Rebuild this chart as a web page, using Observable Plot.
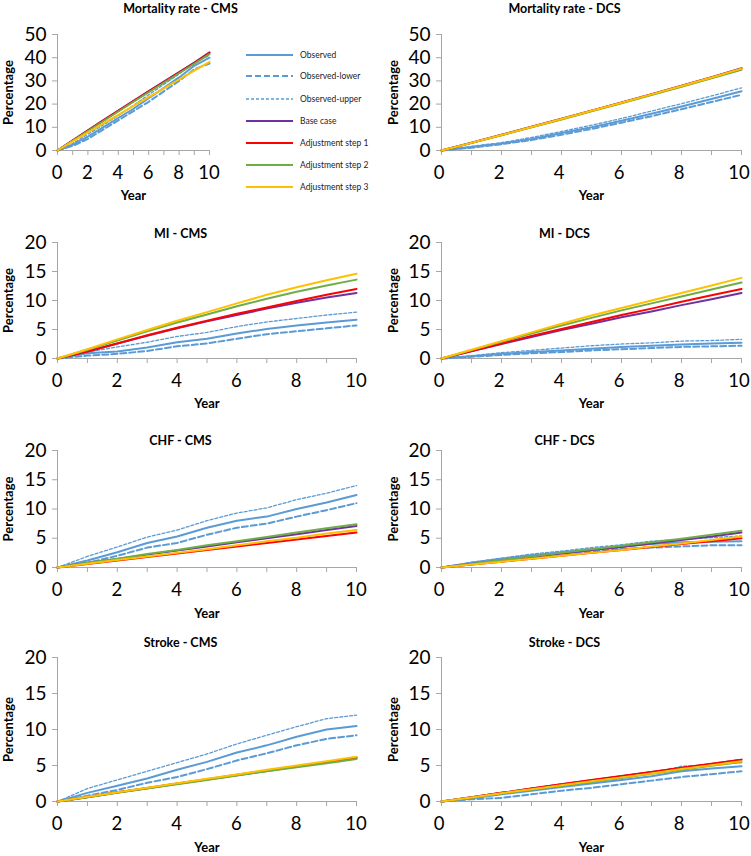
<!DOCTYPE html>
<html><head><meta charset="utf-8">
<script src="https://cdn.jsdelivr.net/npm/d3@7"></script>
<script src="https://cdn.jsdelivr.net/npm/@observablehq/plot@0.6"></script>
<style>
body{margin:0;background:#fff;}
#page{position:relative;width:751px;height:856px;font-family:Lato,"DejaVu Sans",sans-serif;overflow:hidden;}
.panel{position:absolute;}
.panel svg{overflow:visible;}
#legend{position:absolute;left:0;top:0;}
</style></head><body><div id="page"></div>
<script>
const years = [0,1,2,3,4,5,6,7,8,9,10];
const seriesNames = ["Observed","Observed-lower","Observed-upper","Base case","Adjustment step 1","Adjustment step 2","Adjustment step 3"];
const seriesKeys = ["observed","lower","upper","base","adj1","adj2","adj3"];

const mortalityCMS = {
  observed: [0,2.5,6,10,14,18,22.5,27,31.5,36.5,40],
  lower:    [0,2,5,9,13,17,21,25.5,30,35,37.5],
  upper:    [0,3,7,11,15,19.5,24,28.5,33,38,41],
  base:     [0,4.4,8.7,13,17.2,21.4,25.6,29.7,33.8,37.9,42.3],
  adj1:     [0,4.3,8.6,12.9,17.1,21.3,25.4,29.5,33.6,37.7,42],
  adj2:     [0,4.2,8.4,12.6,16.8,21,25.1,29.2,33.3,37.4,41.5],
  adj3:     [0,3.9,7.8,11.6,15.4,19.2,23,26.8,30.6,34.4,38.2]
};
const mortalityDCS = {
  observed: [0,1.5,3,5,7.5,10,12.8,15.8,19,22.2,25.5],
  lower:    [0,1.2,2.7,4.5,6.8,9.3,12,14.8,17.8,20.9,24],
  upper:    [0,1.8,3.4,5.6,8.2,10.9,13.8,17,20.2,23.5,27],
  base:     [0,3.35,6.8,10.2,13.7,17.2,20.7,24.3,27.9,31.6,35.5],
  adj1:     [0,3.3,6.7,10.1,13.6,17.1,20.6,24.2,27.8,31.5,35.3],
  adj2:     [0,3.3,6.6,10,13.4,16.9,20.4,23.9,27.5,31.1,34.8],
  adj3:     [0,3.3,6.7,10.1,13.6,17.1,20.6,24.2,27.8,31.5,35.3]
};
const miCMS = {
  observed: [0,0.9,1.2,1.9,2.8,3.4,4.3,5.1,5.7,6.2,6.7],
  lower:    [0,0.5,0.8,1.3,2.1,2.6,3.4,4.2,4.7,5.2,5.7],
  upper:    [0,1.1,2.0,2.8,3.8,4.5,5.5,6.3,6.9,7.5,8.0],
  base:     [0,1.2,2.6,3.9,5.2,6.4,7.5,8.6,9.6,10.5,11.3],
  adj1:     [0,1.2,2.6,4,5.3,6.5,7.7,8.8,9.9,11,12],
  adj2:     [0,1.5,3.1,4.7,6.2,7.6,9,10.3,11.5,12.6,13.6],
  adj3:     [0,1.6,3.3,4.9,6.5,8,9.5,11,12.3,13.5,14.6]
};
const miDCS = {
  observed: [0,0.4,0.8,1.1,1.4,1.7,2,2.2,2.4,2.6,2.7],
  lower:    [0,0.3,0.6,0.9,1.1,1.4,1.6,1.8,2,2.1,2.2],
  upper:    [0,0.5,1.0,1.4,1.8,2.2,2.5,2.7,3,3.1,3.3],
  base:     [0,1.25,2.5,3.7,4.9,6,7.1,8.1,9.2,10.2,11.3],
  adj1:     [0,1.3,2.6,3.9,5.1,6.3,7.5,8.6,9.8,10.9,12],
  adj2:     [0,1.45,2.9,4.3,5.7,7,8.3,9.5,10.7,11.9,13.1],
  adj3:     [0,1.5,3,4.5,6,7.4,8.7,10,11.3,12.6,13.9]
};
const chfCMS = {
  observed: [0,1.2,2.6,4.2,5.3,6.8,8,8.7,10,11.1,12.4],
  lower:    [0,0.8,2,3.4,4.2,5.6,6.8,7.5,8.7,9.8,11],
  upper:    [0,1.9,3.5,5.2,6.4,8,9.3,10.2,11.6,12.7,14],
  base:     [0,0.75,1.45,2.2,2.9,3.6,4.3,5,5.7,6.4,7.1],
  adj1:     [0,0.6,1.2,1.8,2.4,3.0,3.6,4.2,4.8,5.4,6.0],
  adj2:     [0,0.8,1.5,2.3,3.0,3.8,4.5,5.2,6,6.7,7.4],
  adj3:     [0,0.65,1.3,1.9,2.5,3.1,3.8,4.5,5.1,5.8,6.4]
};
const chfDCS = {
  observed: [0,0.8,1.5,2.1,2.6,3.1,3.6,4,4.3,4.4,4.5],
  lower:    [0,0.7,1.4,1.9,2.4,2.8,3.2,3.4,3.6,3.8,3.8],
  upper:    [0,0.9,1.6,2.3,2.8,3.4,3.9,4.5,4.8,5.1,5.4],
  base:     [0,0.6,1.2,1.8,2.4,3.0,3.5,4.1,4.7,5.3,6.0],
  adj1:     [0,0.5,1.0,1.5,2.0,2.5,3.0,3.5,4.0,4.5,5.0],
  adj2:     [0,0.6,1.3,1.9,2.5,3.1,3.7,4.3,4.9,5.6,6.3],
  adj3:     [0,0.5,1.0,1.5,2.0,2.5,3.0,3.6,4.1,4.7,5.3]
};
const strokeCMS = {
  observed: [0,1.2,2.2,3.2,4.4,5.5,6.8,7.8,9,10,10.5],
  lower:    [0,0.8,1.6,2.6,3.4,4.5,5.7,6.7,7.8,8.7,9.2],
  upper:    [0,1.8,3,4.2,5.4,6.6,8,9.2,10.4,11.5,12],
  base:     [0,0.6,1.25,1.85,2.45,3.05,3.65,4.25,4.85,5.45,6.0],
  adj1:     [0,0.62,1.27,1.88,2.5,3.1,3.7,4.3,4.9,5.5,6.1],
  adj2:     [0,0.6,1.22,1.82,2.4,3.0,3.6,4.2,4.75,5.3,5.9],
  adj3:     [0,0.65,1.3,1.9,2.55,3.15,3.75,4.4,5.0,5.6,6.2]
};
const strokeDCS = {
  observed: [0,0.4,1.0,1.5,2,2.5,3,3.5,4.2,4.6,4.9],
  lower:    [0,0.3,0.5,1.0,1.5,1.9,2.4,2.9,3.4,3.8,4.2],
  upper:    [0,0.5,1.2,1.7,2.2,2.7,3.2,3.9,4.9,5.1,5.4],
  base:     [0,0.6,1.2,1.8,2.4,2.95,3.5,4.1,4.65,5.2,5.8],
  adj1:     [0,0.6,1.2,1.8,2.4,3.0,3.55,4.1,4.7,5.25,5.8],
  adj2:     [0,0.55,1.1,1.65,2.2,2.75,3.3,3.85,4.4,4.95,5.5],
  adj3:     [0,0.57,1.15,1.7,2.25,2.8,3.35,3.9,4.5,5.05,5.6]
};

const seriesColors = ["#5B9BD5","#5B9BD5","#5B9BD5","#7030A0","#FF0000","#70AD47","#FFC000"];
const seriesDash = [null,"6,3","3,2",null,null,null,null];
const seriesWidth = [2,2,1.3,2,2,2,2];
const axisColor = "#A6A6A6";
const font = "Lato, 'DejaVu Sans', sans-serif";

const panels = [
  {title:"Mortality rate - CMS", data:mortalityCMS, yMax:50, yTicks:[0,10,20,30,40,50], left:0, top:0, width:230, height:210, mt:34, mb:60, ml:57, mr:21, titleX:180, titleY:8, yearDy:45},
  {title:"Mortality rate - DCS", data:mortalityDCS, yMax:50, yTicks:[0,10,20,30,40,50], left:375, top:0, width:376, height:210, mt:34, mb:60, ml:66, mr:10, titleX:564, titleY:8, yearDy:45},
  {title:"MI - CMS", data:miCMS, yMax:20, yTicks:[0,5,10,15,20], left:0, top:210, width:375, height:210, mt:32, mb:62, ml:57, mr:19, titleX:180, titleY:23, yearDy:45},
  {title:"MI - DCS", data:miDCS, yMax:20, yTicks:[0,5,10,15,20], left:375, top:210, width:376, height:210, mt:32, mb:62, ml:66, mr:10, titleX:564, titleY:23, yearDy:45},
  {title:"CHF - CMS", data:chfCMS, yMax:20, yTicks:[0,5,10,15,20], left:0, top:420, width:375, height:210, mt:30, mb:63, ml:57, mr:19, titleX:180, titleY:20, yearDy:46},
  {title:"CHF - DCS", data:chfDCS, yMax:20, yTicks:[0,5,10,15,20], left:375, top:420, width:376, height:210, mt:30, mb:63, ml:66, mr:10, titleX:564, titleY:20, yearDy:46},
  {title:"Stroke - CMS", data:strokeCMS, yMax:20, yTicks:[0,5,10,15,20], left:0, top:630, width:375, height:226, mt:27, mb:55, ml:57, mr:19, titleX:180, titleY:12, yearDy:46},
  {title:"Stroke - DCS", data:strokeDCS, yMax:20, yTicks:[0,5,10,15,20], left:375, top:630, width:376, height:226, mt:27, mb:55, ml:66, mr:10, titleX:564, titleY:12, yearDy:46}
];

const page = document.getElementById("page");

for (const p of panels) {
  const frameCenterX = p.left + p.ml + (p.width - p.ml - p.mr) / 2;
  const lines = seriesKeys.map((k, i) => {
    const rows = years.map((y, j) => ({year: y, value: p.data[k][j]}));
    return Plot.line(rows, {x: "year", y: "value", stroke: seriesColors[i], strokeWidth: seriesWidth[i], strokeDasharray: seriesDash[i] || undefined, strokeLinejoin: "round"});
  });
  const chart = Plot.plot({
    width: p.width, height: p.height,
    marginTop: p.mt, marginBottom: p.mb, marginLeft: p.ml, marginRight: p.mr,
    style: {fontFamily: font, background: "transparent", overflow: "visible"},
    x: {domain: [0, 10]},
    y: {domain: [0, p.yMax]},
    marks: [
      Plot.axisY({ticks: p.yTicks, tickSize: 5, tickPadding: 6, fontSize: 19, stroke: axisColor, fill: "#000", label: null}),
      Plot.axisX({ticks: years, tickFormat: () => "", tickSize: 5, stroke: axisColor, label: null}),
      Plot.axisX({ticks: years.filter(d => d % 2 === 0), tickSize: 0, tickPadding: 15, fontSize: 18.5, fill: "#000", label: null, dx: p.left === 0 ? -0.5 : -2.5}),
      Plot.ruleX([0], {stroke: axisColor, strokeWidth: 1}),
      Plot.ruleY([0], {stroke: axisColor, strokeWidth: 1}),
      ...lines,
      Plot.text([p.title], {frameAnchor: "top", lineAnchor: "middle", textAnchor: "middle", dy: -(p.mt - p.titleY), dx: p.titleX - frameCenterX, fontWeight: "bold", fontSize: 12.5, fill: "#000"}),
      Plot.text(["Year"], {frameAnchor: "bottom", lineAnchor: "middle", textAnchor: "middle", dy: p.yearDy, fontWeight: "bold", fontSize: 13, fill: "#000"}),
      Plot.text(["Percentage"], {frameAnchor: "left", lineAnchor: "middle", textAnchor: "middle", rotate: -90, dx: -(p.ml - (p.left === 0 ? 8 : 18)), fontWeight: "bold", fontSize: 13, fill: "#000"})
    ]
  });
  const div = document.createElement("div");
  div.className = "panel";
  div.style.left = p.left + "px";
  div.style.top = p.top + "px";
  div.appendChild(chart);
  page.appendChild(div);
}

// Legend
const legendYs = [55, 76, 99, 121, 143, 165, 187];
const legend = d3.create("svg").attr("id", "legend").attr("width", 375).attr("height", 210)
  .style("font-family", font);
seriesNames.forEach((name, i) => {
  legend.append("line").attr("x1", 246).attr("x2", 293).attr("y1", legendYs[i]).attr("y2", legendYs[i])
    .attr("stroke", seriesColors[i]).attr("stroke-width", seriesWidth[i])
    .attr("stroke-dasharray", seriesDash[i]);
  legend.append("text").attr("x", 300).attr("y", legendYs[i]).attr("dy", "0.35em")
    .attr("font-size", 8.5).attr("fill", "#222").text(name);
});
page.appendChild(legend.node());
</script></body></html>
